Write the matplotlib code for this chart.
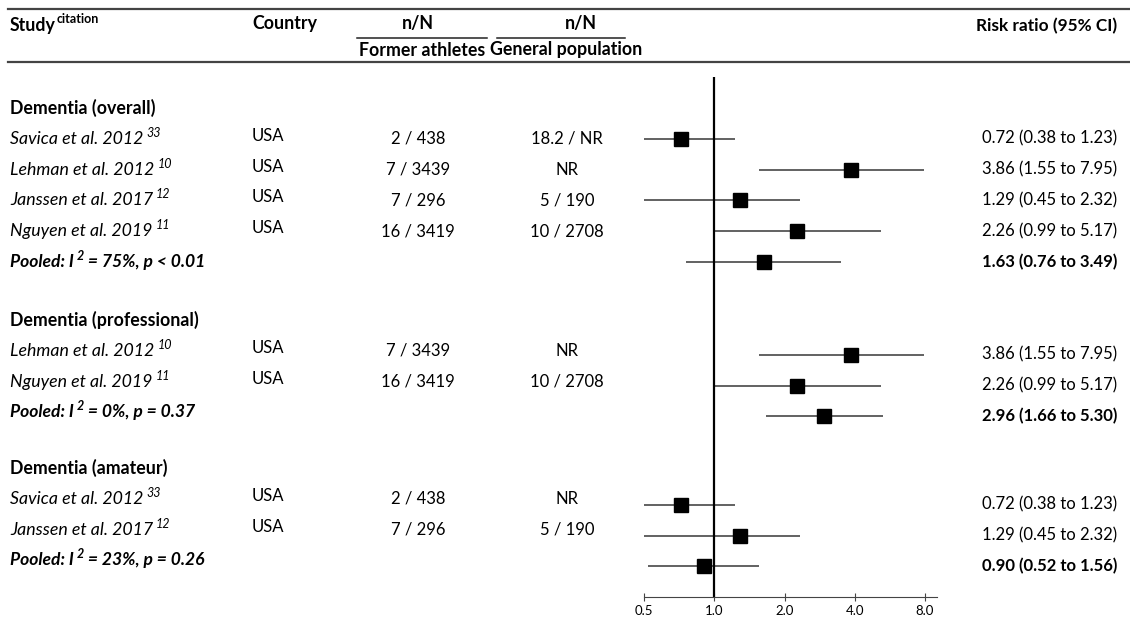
import matplotlib
matplotlib.use('Agg')
import matplotlib.pyplot as plt
from matplotlib.lines import Line2D
from matplotlib.transforms import blended_transform_factory, offset_copy

plt.rcParams['font.family'] = ['Lato', 'DejaVu Sans']

# data
groups = ['Dementia (overall)', 'Dementia (professional)', 'Dementia (amateur)']
group_sizes = [4, 2, 2]
studies = ['Savica et al. 2012', 'Lehman et al. 2012', 'Janssen et al. 2017', 'Nguyen et al. 2019',
           'Lehman et al. 2012', 'Nguyen et al. 2019',
           'Savica et al. 2012', 'Janssen et al. 2017']
citations = ['33', '10', '12', '11', '10', '11', '33', '12']
countries = ['USA'] * 8
former = ['2 / 438', '7 / 3439', '7 / 296', '16 / 3419', '7 / 3439', '16 / 3419', '2 / 438', '7 / 296']
general = ['18.2 / NR', 'NR', '5 / 190', '10 / 2708', 'NR', '10 / 2708', 'NR', '5 / 190']
rr = [0.72, 3.86, 1.29, 2.26, 3.86, 2.26, 0.72, 1.29]
rr_lo = [0.38, 1.55, 0.45, 0.99, 1.55, 0.99, 0.38, 0.45]
rr_hi = [1.23, 7.95, 2.32, 5.17, 7.95, 5.17, 1.23, 2.32]
pooled_i2 = ['75%', '0%', '23%']
pooled_p = ['p < 0.01', 'p = 0.37', 'p = 0.26']
pooled_rr = [1.63, 2.96, 0.90]
pooled_lo = [0.76, 1.66, 0.52]
pooled_hi = [3.49, 5.30, 1.56]
ticks = [0.5, 1.0, 2.0, 4.0, 8.0]

# layout (pixel rows, top = 0)
header_y = [108, 320, 468]
row_step = 30.8
forest_shift = [0, 4, 6]
W, H = 1130, 622
fs_txt = 12.8   # words
fs_num = 12     # numbers
fs_sup = 9

fig = plt.figure(figsize=(W / 100, H / 100), dpi=100)
ax = fig.add_axes([644 / W, 0, (937 - 644) / W, 1])
ax.set_xscale('log', base=2)
ax.set_xlim(0.5, 2 ** 3.17)
ax.set_ylim(H, 0)
ax.patch.set_alpha(0)
for s in ['top', 'right', 'left']:
    ax.spines[s].set_visible(False)
ax.spines['bottom'].set_position(('data', 597))
ax.spines['bottom'].set_color('#444444')
ax.set_yticks([])
ax.set_xticks(ticks)
ax.set_xticklabels(['%.1f' % t for t in ticks], fontsize=9.5)
ax.xaxis.set_minor_locator(plt.NullLocator())
ax.tick_params(axis='x', direction='inout', length=6, color='#444444', pad=3)
ax.vlines(1.0, 77, 597, color='black', lw=1.6, zorder=2)

renderer = fig.canvas.get_renderer()
tb = blended_transform_factory(fig.transFigure, ax.transData)


def put_runs(x, y, parts):
    dx = 0
    for s, kw, dy, gap in parts:
        tr = offset_copy(tb, fig=fig, x=dx + gap, y=dy, units='dots')
        t = fig.text(x / W, y, s, transform=tr, va='center', **kw)
        dx += gap + t.get_window_extent(renderer).width


def forest(y, est, lo, hi):
    ax.hlines(y, max(lo, 0.5), hi, color='#555555', lw=1.3, zorder=1)
    ax.plot(est, y, 's', color='black', ms=9.5, zorder=3)


def ctext(x, y, s, **kw):
    fig.text(x / W, y, s, transform=tb, va='center', **kw)


# header
put_runs(10, 26, [('Study', dict(fontsize=fs_txt, weight='bold'), 0, 0),
                  ('citation', dict(fontsize=fs_sup, weight='bold'), 7, 1)])
ctext(252, 24, 'Country', fontsize=fs_txt, weight='bold')
ctext(418, 24, 'n/N', ha='center', fontsize=fs_txt, weight='bold')
ctext(581, 24, 'n/N', ha='center', fontsize=fs_txt, weight='bold')
ctext(422, 50, 'Former athletes', ha='center', fontsize=fs_txt, weight='bold')
ctext(566, 50, 'General population', ha='center', fontsize=fs_txt, weight='bold')
ctext(1117, 26, 'Risk ratio (95% CI)', ha='right', fontsize=12.4, weight='bold')

fig.add_artist(Line2D([8 / W, 1], [1 - 9 / H, 1 - 9 / H], color='#444444', lw=1.6))
fig.add_artist(Line2D([8 / W, 1], [1 - 62 / H, 1 - 62 / H], color='#444444', lw=1.6))
fig.add_artist(Line2D([357 / W, 487 / W], [1 - 38 / H, 1 - 38 / H], color='#222222', lw=1.1))
fig.add_artist(Line2D([497 / W, 625 / W], [1 - 38 / H, 1 - 38 / H], color='#222222', lw=1.1))

k = 0
for g, name in enumerate(groups):
    hy = header_y[g]
    ctext(10, hy, name, fontsize=fs_txt, weight='bold')
    for j in range(group_sizes[g]):
        y = hy + row_step * (j + 1)
        put_runs(10, y, [(studies[k], dict(fontsize=fs_txt, style='italic'), 0, 0),
                         (citations[k], dict(fontsize=fs_sup, style='italic'), 6, 3)])
        ctext(252, y - 3, countries[k], fontsize=fs_num)
        ctext(418, y, former[k], ha='center', fontsize=fs_num)
        ctext(567, y, general[k], ha='center', fontsize=fs_num)
        fy = y + forest_shift[g]
        forest(fy, rr[k], rr_lo[k], rr_hi[k])
        ctext(1117, fy, '%.2f (%.2f to %.2f)' % (rr[k], rr_lo[k], rr_hi[k]),
              ha='right', fontsize=fs_num)
        k += 1
    y = hy + row_step * (group_sizes[g] + 1)
    bi = dict(fontsize=12.6, weight='bold', style='italic')
    put_runs(10, y, [('Pooled: I', bi, 0, 0),
                     ('2', dict(fontsize=fs_sup, weight='bold', style='italic'), 6, 3),
                     (' = %s, %s' % (pooled_i2[g], pooled_p[g]), bi, 0, 0)])
    fy = y + forest_shift[g]
    forest(fy, pooled_rr[g], pooled_lo[g], pooled_hi[g])
    ctext(1117, fy, '%.2f (%.2f to %.2f)' % (pooled_rr[g], pooled_lo[g], pooled_hi[g]),
          ha='right', fontsize=fs_num, weight='bold')

fig.savefig('out.png', dpi=100)
